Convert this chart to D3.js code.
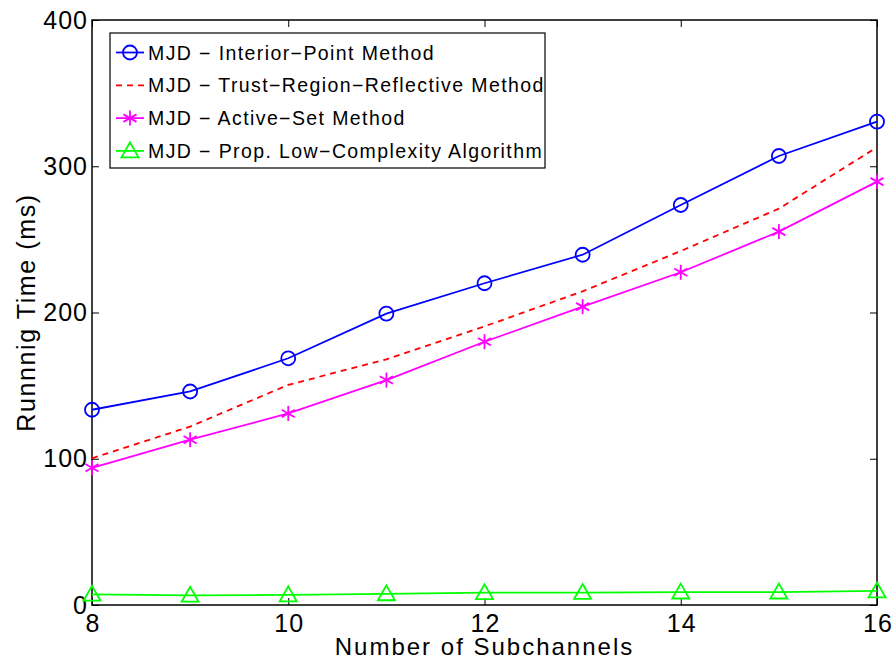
<!DOCTYPE html>
<html><head><meta charset="utf-8">
<script src="https://cdn.jsdelivr.net/npm/d3@7"></script>
<style>body{margin:0;background:#fff}svg{display:block}text{font-family:"Liberation Sans",Arial,sans-serif}</style>
</head><body><svg id="c" width="896" height="660"></svg>
<script>
const subchannels = [8, 9, 10, 11, 12, 13, 14, 15, 16];
const interiorPoint = [133.5, 146, 168.7, 199.2, 220, 239.5, 273.5, 307, 330.5];
const trustRegion = [100.3, 122, 150.5, 168, 190.5, 214.5, 242, 271, 313];
const activeSet = [93.8, 113, 131, 153.8, 180, 204, 227.5, 255.3, 289.5];
const lowComplexity = [7.3, 6.6, 6.9, 7.6, 8.4, 8.5, 8.8, 8.8, 9.6];
const seriesNames = ["MJD \u2212 Interior\u2212Point Method","MJD \u2212 Trust\u2212Region\u2212Reflective Method","MJD \u2212 Active\u2212Set Method","MJD \u2212 Prop. Low\u2212Complexity Algorithm"];
const xTicks = [8, 10, 12, 14, 16];
const yTicks = [0, 100, 200, 300, 400];

const svg = d3.select("#c");
const L=92,R=877,T=20,B=605;
const x = d3.scaleLinear().domain([8,16]).range([L,R]);
const y = d3.scaleLinear().domain([0,400]).range([B,T]);

const series = [
 {name:seriesNames[0], vals:interiorPoint, color:"#0000ff", dash:null, marker:"circle"},
 {name:seriesNames[1], vals:trustRegion, color:"#ff0000", dash:"6,5", marker:null},
 {name:seriesNames[2], vals:activeSet, color:"#ff00ff", dash:null, marker:"star"},
 {name:seriesNames[3], vals:lowComplexity, color:"#00ff00", dash:null, marker:"tri"}
];

const gx = svg.append("g").attr("transform",`translate(0,${B})`).call(d3.axisBottom(x).tickValues(xTicks).tickSize(-7).tickPadding(9).tickFormat(d3.format("d")));
const gxt = svg.append("g").attr("transform",`translate(0,${T})`).call(d3.axisTop(x).tickValues(xTicks).tickSize(-7).tickFormat(""));
const gy = svg.append("g").attr("transform",`translate(${L},0)`).call(d3.axisLeft(y).tickValues(yTicks).tickSize(-7).tickPadding(12).tickFormat(d3.format("d")));
const gyr = svg.append("g").attr("transform",`translate(${R},0)`).call(d3.axisRight(y).tickValues(yTicks).tickSize(-7).tickFormat(""));
[gx,gxt,gy,gyr].forEach(g=>{
  g.select(".domain").remove();
  g.selectAll(".tick line").attr("stroke","#000").attr("stroke-width",1);
  g.selectAll("text").attr("font-size",25).attr("letter-spacing","1px").attr("fill","#000").attr("font-family","Liberation Sans, Arial, sans-serif");
});
gy.selectAll("text").attr("dx",8);
gx.selectAll("text").attr("dx",0.5);
svg.append("rect").attr("x",L).attr("y",T).attr("width",R-L).attr("height",B-T).attr("fill","none").attr("stroke","#000").attr("stroke-width",1.5);

const line = d3.line().x((d,i)=>x(subchannels[i])).y(d=>y(d));

function drawMarker(g, type, cx, cy, color){
  if(type==="circle"){
    g.append("circle").attr("cx",cx).attr("cy",cy).attr("r",7).attr("fill","none").attr("stroke",color).attr("stroke-width",1.8);
  } else if(type==="star"){
    const r=7.5;
    const p=[[0,-r],[0,r],[-r*0.87,-r*0.5],[r*0.87,r*0.5],[-r*0.87,r*0.5],[r*0.87,-r*0.5]];
    for(let k=0;k<6;k+=2){
      g.append("line").attr("x1",cx+p[k][0]).attr("y1",cy+p[k][1]).attr("x2",cx+p[k+1][0]).attr("y2",cy+p[k+1][1]).attr("stroke",color).attr("stroke-width",1.8);
    }
  } else if(type==="tri"){
    const s=8.5;
    g.append("path").attr("d",`M${cx},${cy-s}L${cx+s},${cy+s*0.75}L${cx-s},${cy+s*0.75}Z`).attr("fill","none").attr("stroke",color).attr("stroke-width",1.8);
  }
}

series.forEach(s=>{
  const g = svg.append("g");
  g.append("path").datum(s.vals).attr("d",line).attr("fill","none").attr("stroke",s.color).attr("stroke-width",1.8).attr("stroke-dasharray",s.dash);
  if(s.marker) s.vals.forEach((v,i)=>drawMarker(g,s.marker,x(subchannels[i]),y(v),s.color));
});

const lg = svg.append("g");
lg.append("rect").attr("x",110).attr("y",33).attr("width",435).attr("height",135).attr("fill","#fff").attr("stroke","#000").attr("stroke-width",1.2);
series.forEach((s,i)=>{
  const cy = 52.5 + i*32.8;
  lg.append("line").attr("x1",116).attr("x2",144).attr("y1",cy).attr("y2",cy).attr("stroke",s.color).attr("stroke-width",1.8).attr("stroke-dasharray",s.dash);
  if(s.marker) drawMarker(lg,s.marker,130,cy,s.color);
  lg.append("text").attr("x",148).attr("y",cy+7).attr("font-size",19.5).attr("letter-spacing","1.4px").attr("fill","#000").text(s.name);
});

svg.append("text").attr("x",(L+R)/2).attr("y",655).attr("text-anchor","middle").attr("font-size",24).attr("letter-spacing","2px").attr("fill","#000").text("Number of Subchannels");
svg.append("text").attr("transform",`translate(35,${(T+B)/2}) rotate(-90)`).attr("text-anchor","middle").attr("font-size",25).attr("letter-spacing","1.6px").attr("fill","#000").text("Runnnig Time (ms)");
</script></body></html>
